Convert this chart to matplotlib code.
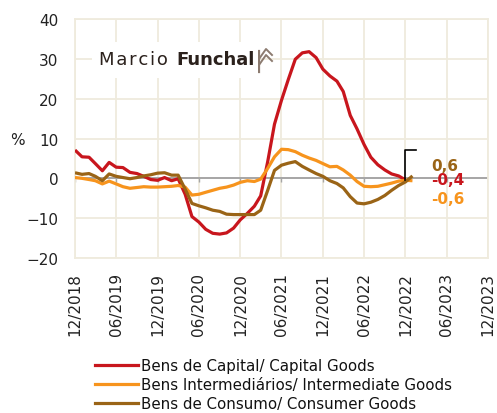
import numpy as np
import pandas as pd
import matplotlib
matplotlib.use('Agg')
import matplotlib.pyplot as plt
import matplotlib.dates as mdates
from matplotlib.lines import Line2D

# monthly values, 12/2018 onwards (%)
capital = [7.1, 5.4, 5.3, 3.7, 1.9, 4.0, 2.8, 2.7, 1.5, 1.2,
           0.5, -0.3, -0.5, 0.2, -0.6, -0.1, -4.0, -9.6, -11.0, -12.8,
           -13.8, -14.0, -13.7, -12.5, -10.4, -8.8, -7.0, -4.4, 4.2, 13.6,
           19.6, 24.8, 29.9, 31.5, 31.8, 30.3, 27.4, 25.7, 24.4, 21.8,
           15.8, 12.4, 8.5, 5.3, 3.4, 2.1, 1.1, 0.6, -0.4]
intermediate = [0.2, 0.0, -0.3, -0.6, -1.4, -0.7, -1.4, -2.1, -2.5, -2.3,
                -2.1, -2.2, -2.2, -2.1, -2.0, -1.8, -2.2, -4.2, -4.0, -3.5,
                -3.0, -2.5, -2.2, -1.7, -1.0, -0.6, -0.8, -0.2, 2.5, 5.4,
                7.3, 7.2, 6.7, 5.8, 5.1, 4.5, 3.7, 2.9, 3.0, 2.1,
                0.8, -0.8, -2.0, -2.1, -2.0, -1.6, -1.2, -0.7, -0.5, -0.6]
consumer = [1.4, 1.0, 1.2, 0.5, -0.6, 1.1, 0.5, 0.2, -0.1, 0.2,
            0.6, 0.9, 1.3, 1.4, 0.8, 0.8, -2.7, -6.3, -6.9, -7.4,
            -8.0, -8.3, -9.0, -9.1, -9.1, -9.1, -9.1, -8.0, -3.0, 2.0,
            3.3, 3.8, 4.2, 3.0, 2.1, 1.2, 0.5, -0.6, -1.3, -2.4,
            -4.6, -6.2, -6.4, -6.0, -5.3, -4.3, -3.0, -1.8, -0.9, 0.6]

labels = ['Bens de Capital/ Capital Goods',
          'Bens Intermediários/ Intermediate Goods',
          'Bens de Consumo/ Consumer Goods']
colors = ['#c8161d', '#f7941d', '#9a6416']
end_labels = ['-0,4', '-0,6', '0,6']

start = pd.Timestamp('2018-12-01')
W, H = 497, 414
fig = plt.figure(figsize=(W / 100, H / 100), dpi=100)
ax = fig.add_axes([75 / W, 1 - 259 / H, (488 - 75) / W, (259 - 20) / H])

grid_c = '#efebdd'
series = [capital, intermediate, consumer]
for vals, c in zip(series, colors):
    d = pd.date_range(start, periods=len(vals), freq='MS')
    ax.plot(d, vals, color=c, lw=2.3, solid_capstyle='butt', zorder=3)

xt = pd.date_range(start, '2023-12-01', freq='6MS')
ax.set_xlim(xt[0], xt[-1])
ax.set_ylim(-20, 40)
ax.set_yticks(np.arange(-20, 41, 10))
ax.set_xticks(xt)
ax.xaxis.set_major_formatter(mdates.DateFormatter('%m/%Y'))
ax.grid(True, color=grid_c, lw=1.3, zorder=0)
for s in ax.spines.values():
    s.set_color(grid_c)
    s.set_linewidth(1.3)
ax.tick_params(axis='both', length=0, labelsize=11, colors='#222222')
ax.tick_params(axis='y', pad=12)
ax.tick_params(axis='x', pad=10, labelrotation=90)

# zero line with small ticks
ax.axhline(0, color='#a6a6a6', lw=1.4, zorder=2)
ax.vlines(xt, -0.9, 0, color='#a6a6a6', lw=1.0, zorder=2)

# leader line + end labels
last_d = pd.date_range(start, periods=len(capital), freq='MS')[-1]
ax.plot([last_d, last_d, last_d + pd.Timedelta(days=47)], [capital[-1], 7, 7],
        color='black', lw=1.2, zorder=4)
lab_x = last_d + pd.Timedelta(days=112)
ax.text(lab_x, 3.2, end_labels[2], color=colors[2], fontsize=11, fontweight='bold', va='center')
ax.text(lab_x, -0.4, end_labels[0], color=colors[0], fontsize=11, fontweight='bold', va='center')
ax.text(lab_x, -5.0, end_labels[1], color=colors[1], fontsize=11, fontweight='bold', va='center')

fig.text(17 / W, 1 - 141 / H, '%', fontsize=11, ha='center', va='center', color='#222222')

# logo (white patch hides the grid behind it)
fig.patches.append(plt.Rectangle((92 / W, 1 - 79 / H), 166 / W, 36 / H,
                                 transform=fig.transFigure, facecolor='white',
                                 edgecolor='none', zorder=2.5))
ax.set_zorder(1)
hs = '\u200a'
fig.text(99 / W, 1 - 60 / H, hs.join('Marcio'), fontsize=13, fontfamily='DejaVu Sans',
         va='center', color='#2b211c', zorder=5)
fig.text(176 / W, 1 - 60 / H, 'Funchal', fontsize=13, fontfamily='DejaVu Sans',
         fontweight='bold', va='center', color='#2b211c', zorder=5)
icon_c = '#8c7b70'
fig.add_artist(Line2D([259 / W, 259 / W], [1 - 52 / H, 1 - 73 / H], color=icon_c, lw=1.6))
for dy in (0, 6):
    fig.add_artist(Line2D([259 / W, 266 / W, 272 / W],
                          [1 - (60 + dy) / H, 1 - (50 + dy) / H, 1 - (56 + dy) / H],
                          color=icon_c, lw=1.4))

handles = [Line2D([], [], color=c, lw=2.3) for c in colors]
fig.legend(handles, labels, loc='upper left', bbox_to_anchor=(95 / W, 1 - 359 / H),
           frameon=False, fontsize=10.8, handlelength=2.85, handletextpad=0.2,
           labelspacing=0.28, borderpad=0, borderaxespad=0, labelcolor='#111111')

fig.savefig('out.png', dpi=100)
